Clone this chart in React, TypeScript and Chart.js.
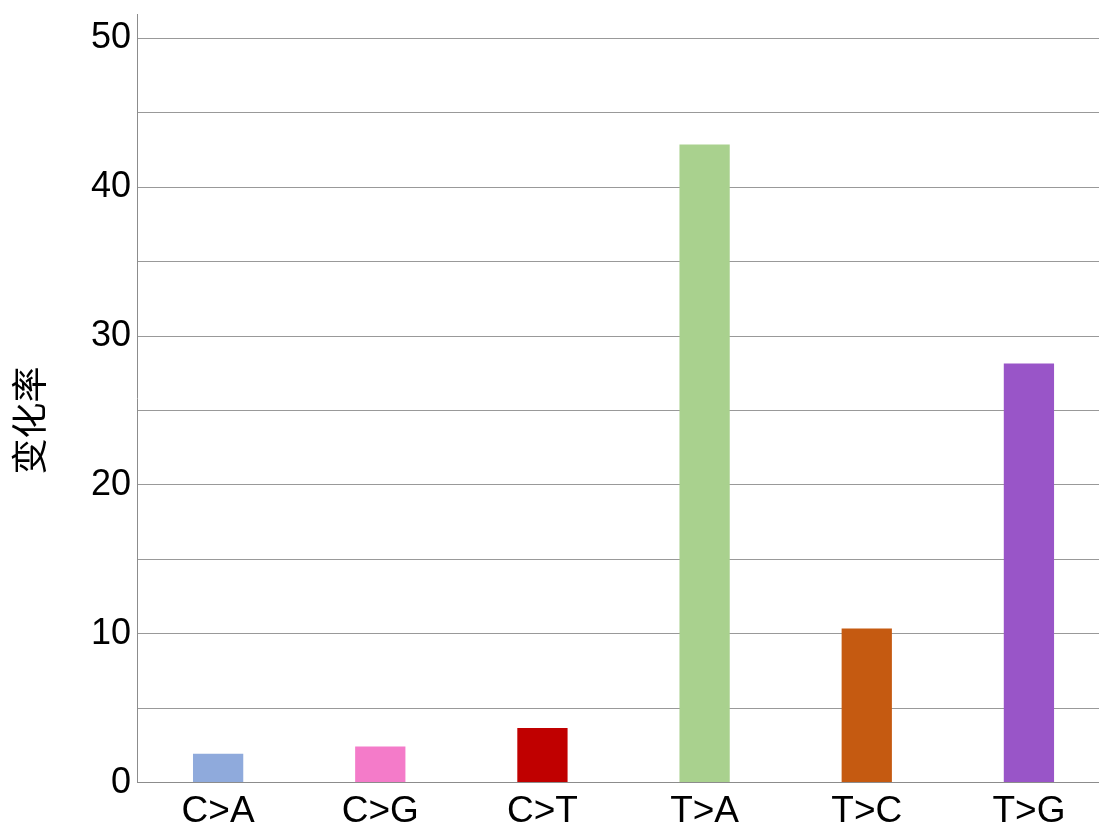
import React, { useEffect, useRef } from "react";
import { Chart, registerables } from "chart.js";

Chart.register(...registerables);

const categories = ["C>A", "C>G", "C>T", "T>A", "T>C", "T>G"];
const values = [1.93, 2.42, 3.67, 42.88, 10.35, 28.16];
const barColors = ["#8FAADC", "#F47BC9", "#C00000", "#A9D18E", "#C55A11", "#9955C8"];
const yTickValues = [0, 5, 10, 15, 20, 25, 30, 35, 40, 45, 50];
const yTitle = "变化率";

const FONT = "'Liberation Sans', Arial, 'Noto Sans CJK SC', sans-serif";

const yTitlePlugin = {
  id: "yTitlePlugin",
  afterDraw(chart: any) {
    const { ctx, chartArea } = chart;
    ctx.save();
    ctx.translate(33, (chartArea.top + chartArea.bottom) / 2 + 22);
    ctx.rotate(-Math.PI / 2);
    ctx.font = `36px ${FONT}`;
    ctx.fillStyle = "#000";
    ctx.textAlign = "center";
    ctx.textBaseline = "middle";
    ctx.fillText(yTitle, 0, 0);
    ctx.restore();
  },
};

export default function App() {
  const ref = useRef<HTMLCanvasElement | null>(null);
  useEffect(() => {
    if (!ref.current) return;
    const chart = new Chart(ref.current, {
      type: "bar",
      data: {
        labels: categories,
        datasets: [
          {
            data: values,
            backgroundColor: barColors,
            categoryPercentage: 1,
            barPercentage: 0.31,
          },
        ],
      },
      plugins: [yTitlePlugin],
      options: {
        animation: false,
        responsive: false,
        maintainAspectRatio: false,
        layout: { padding: { top: 0, left: 85, right: 0, bottom: 0 } },
        plugins: { legend: { display: false }, tooltip: { enabled: false } },
        scales: {
          x: {
            grid: { display: false, drawTicks: false },
            border: { display: true, color: "#8c8c8c", width: 1 },
            ticks: { color: "#000", font: { family: FONT, size: 37 }, padding: 7 },
          },
          y: {
            min: 0,
            max: 51.6,
            afterBuildTicks: (axis: any) => {
              axis.ticks = yTickValues.map((v) => ({ value: v }));
            },
            ticks: {
              color: "#000",
              font: { family: FONT, size: 36 },
              padding: 6,
              callback: (v: any) => (Number(v) % 10 === 0 ? String(v) : ""),
            },
            grid: { color: "#999999", lineWidth: 1, drawTicks: false },
            border: { display: true, color: "#8c8c8c", width: 1 },
          },
        },
      },
    });
    return () => chart.destroy();
  }, []);
  return (
    <div style={{ position: "fixed", left: 0, top: 0, width: 1099, height: 825, overflow: "hidden", background: "#fff" }}>
      <canvas ref={ref} width={1110} height={854} style={{ display: "block", marginTop: -13 }} />
    </div>
  );
}
